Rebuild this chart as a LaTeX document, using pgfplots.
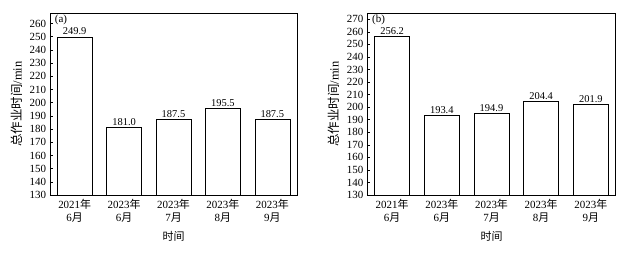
\documentclass[border=0pt]{standalone}
\usepackage{fontspec}
\setmainfont{Liberation Serif}
\newfontfamily\cjk{Noto Sans CJK SC}
\usepackage{pgfplots}
\pgfplotsset{compat=1.18}
\begin{document}
\begin{tikzpicture}
\useasboundingbox (0,0) rectangle (639bp,257bp);
\pgfplotsset{
  every axis/.append style={
    scale only axis,
    anchor=south west,
    ybar, bar width=35bp, bar shift=0pt,
    xmin=-0.5, xmax=4.5, ymin=130,
    xtick=data,
    xticklabels={{2021{\cjk 年}\\6{\cjk 月}},{2023{\cjk 年}\\6{\cjk 月}},{2023{\cjk 年}\\7{\cjk 月}},{2023{\cjk 年}\\8{\cjk 月}},{2023{\cjk 年}\\9{\cjk 月}}},
    xticklabel style={align=center, font=\fontsize{11}{13}\selectfont, yshift=-1bp},
    yticklabel style={font=\fontsize{11}{12}\selectfont, xshift=-0.5bp},
    tick align=inside, xtick pos=bottom, ytick pos=left,
    major tick length=3bp,
    /pgf/number format/assume math mode=true,
    axis line style={line width=0.6pt},
    tick style={line width=0.5pt, black},
    nodes near coords,
    nodes near coords style={font=\fontsize{10.5}{12}\selectfont, inner sep=1.5bp, /pgf/number format/.cd, fixed, fixed zerofill, precision=1, assume math mode=true},
    xlabel={{\cjk 时间}},
    xlabel style={at={(axis description cs:0.5,-0.225)}, anchor=center, font=\fontsize{11}{12}\selectfont},
    ylabel={{\cjk 总作业时间}/min},
    ylabel style={at={(axis description cs:-0.134,0.5)}, anchor=center, font=\fontsize{12.5}{13}\selectfont},
  }
}
\begin{axis}[at={(50bp,62bp)}, width=247bp, height=182bp, ymax=268, ytick={130,140,...,260}]
\addplot[draw=black, fill=white, line width=0.6pt] coordinates {(0,249.9) (1,181.0) (2,187.5) (3,195.5) (4,187.5)};
\node[anchor=north west, font=\fontsize{11}{12}\selectfont, inner sep=1bp] at (axis description cs:0.015,0.995) {(a)};
\end{axis}
\begin{axis}[at={(367.3bp,62bp)}, width=248.4bp, height=182bp, ymax=275, ytick={130,140,...,270}]
\addplot[draw=black, fill=white, line width=0.6pt] coordinates {(0,256.2) (1,193.4) (2,194.9) (3,204.4) (4,201.9)};
\node[anchor=north west, font=\fontsize{11}{12}\selectfont, inner sep=1bp] at (axis description cs:0.015,0.995) {(b)};
\end{axis}
\end{tikzpicture}
\end{document}
